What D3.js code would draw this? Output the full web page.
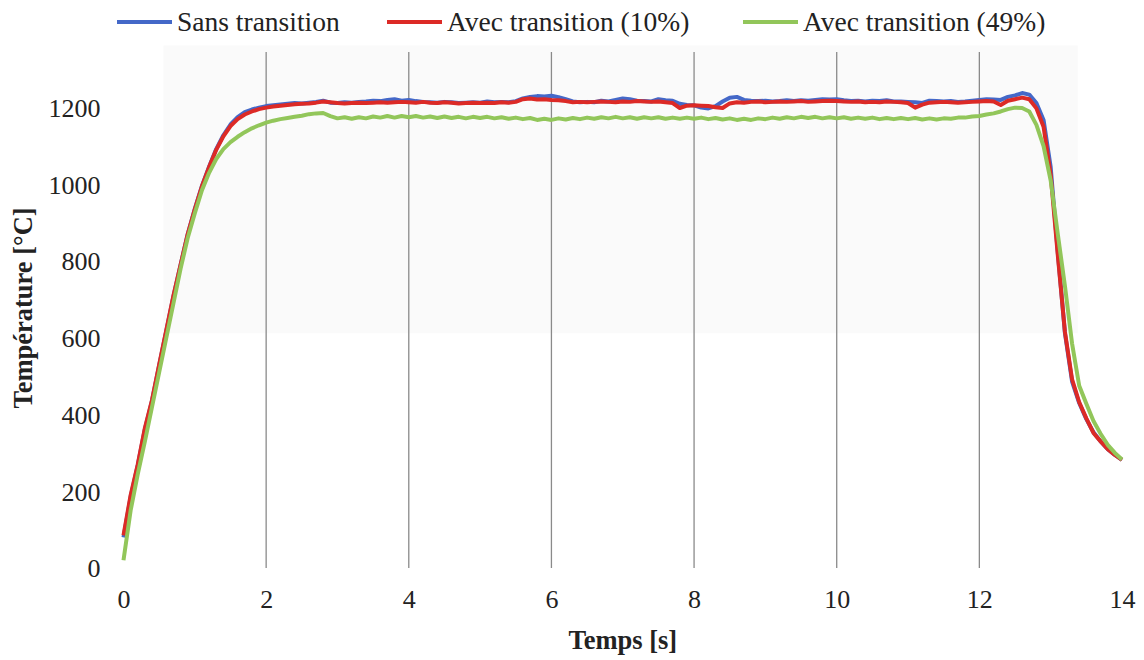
<!DOCTYPE html>
<meta charset="utf-8">
<head>
    <title>Température vs temps</title>
</head>
<style>
  body {
    margin: 0;
    background: #fff;
  }
  .tick text {
    font: 26px "Liberation Serif";
    fill: #222;
  }
  .legend text {
    font: 27.5px "Liberation Serif";
    fill: #222;
  }
  .title {
    font: bold 26.5px "Liberation Serif";
    fill: #222;
  }
  .grid line {
    stroke: #8a8a8a;
    stroke-width: 1.3px;
  }
  .serie {
    fill: none;
    stroke-width: 4px;
    stroke-linejoin: round;
  }
</style>
<body>
<script src="https://cdn.jsdelivr.net/npm/d3@7"></script>

<script>
// time axis [s] shared by all three series
var temps = [
  0.0, 0.1, 0.2, 0.3, 0.4, 0.5, 0.6, 0.7, 0.8, 0.9,
  1.0, 1.1, 1.2, 1.3, 1.4, 1.5, 1.6, 1.7, 1.8, 1.9,
  2.0, 2.1, 2.2, 2.3, 2.4, 2.5, 2.6, 2.7, 2.8, 2.9,
  3.0, 3.1, 3.2, 3.3, 3.4, 3.5, 3.6, 3.7, 3.8, 3.9,
  4.0, 4.1, 4.2, 4.3, 4.4, 4.5, 4.6, 4.7, 4.8, 4.9,
  5.0, 5.1, 5.2, 5.3, 5.4, 5.5, 5.6, 5.7, 5.8, 5.9,
  6.0, 6.1, 6.2, 6.3, 6.4, 6.5, 6.6, 6.7, 6.8, 6.9,
  7.0, 7.1, 7.2, 7.3, 7.4, 7.5, 7.6, 7.7, 7.8, 7.9,
  8.0, 8.1, 8.2, 8.3, 8.4, 8.5, 8.6, 8.7, 8.8, 8.9,
  9.0, 9.1, 9.2, 9.3, 9.4, 9.5, 9.6, 9.7, 9.8, 9.9,
  10.0, 10.1, 10.2, 10.3, 10.4, 10.5, 10.6, 10.7, 10.8, 10.9,
  11.0, 11.1, 11.2, 11.3, 11.4, 11.5, 11.6, 11.7, 11.8, 11.9,
  12.0, 12.1, 12.2, 12.3, 12.4, 12.5, 12.6, 12.7, 12.8, 12.9,
  13.0, 13.1, 13.2, 13.3, 13.4, 13.5, 13.6, 13.7, 13.8, 13.9,
  14.0
];

// Sans transition
var sansTransition = [
  80, 185, 268, 362, 436, 528, 618, 708, 790, 870,
  936, 996, 1046, 1092, 1128, 1156, 1175, 1188, 1195, 1200,
  1204, 1206, 1208, 1210, 1212, 1211, 1213, 1215, 1218, 1213,
  1212, 1214, 1213, 1215, 1216, 1218, 1217, 1220, 1222, 1218,
  1220, 1217, 1215, 1214, 1213, 1215, 1214, 1212, 1213, 1214,
  1213, 1216, 1214, 1215, 1214, 1217, 1224, 1228, 1230, 1229,
  1231, 1227, 1222, 1216, 1214, 1215, 1214, 1218, 1216, 1220,
  1224, 1222, 1218, 1217, 1216, 1222, 1219, 1218, 1210, 1207,
  1206, 1200, 1198, 1204, 1216, 1226, 1228, 1220, 1218, 1217,
  1218, 1216, 1217, 1219, 1217, 1219, 1218, 1220, 1222, 1221,
  1222, 1219, 1217, 1218, 1216, 1218, 1217, 1219, 1216, 1216,
  1215, 1214, 1212, 1218, 1217, 1216, 1217, 1215, 1216, 1218,
  1220, 1222, 1221, 1220, 1228, 1232, 1238, 1234, 1212, 1168,
  1045, 822, 612, 486, 430, 388, 354, 330, 310, 295,
  282
];

// Avec transition (10%)
var transition10 = [
  85, 190, 270, 365, 438, 530, 620, 710, 790, 870,
  935, 995, 1045, 1090, 1125, 1152, 1170, 1182, 1190, 1196,
  1200, 1203, 1205, 1207, 1209, 1210, 1211, 1213, 1216, 1214,
  1212, 1211, 1212, 1213, 1212, 1213, 1214, 1213, 1214, 1215,
  1214, 1213, 1215, 1213, 1212, 1214, 1213, 1211, 1212, 1213,
  1212, 1213, 1212, 1214, 1213, 1215, 1222, 1224, 1221, 1222,
  1220, 1219, 1217, 1214, 1215, 1214, 1215, 1216, 1215, 1214,
  1216, 1215, 1217, 1216, 1215, 1216, 1214, 1212, 1199, 1205,
  1206, 1205, 1204, 1201, 1199, 1211, 1214, 1213, 1215, 1216,
  1214, 1215, 1216, 1215, 1216, 1217, 1215, 1216, 1217, 1218,
  1217, 1216, 1215, 1216, 1214, 1215, 1214, 1216, 1215, 1214,
  1212, 1200, 1208, 1213, 1214, 1215, 1214, 1213, 1214, 1215,
  1216, 1217, 1216, 1207, 1218, 1222, 1226, 1222, 1198, 1150,
  1025, 815, 615, 492, 432, 390, 352, 330, 310, 295,
  282
];

// Avec transition (49%)
var transition49 = [
  20, 150, 245, 330, 420, 510, 600, 690, 780, 860,
  925, 985, 1030, 1066, 1092, 1110, 1124, 1136, 1146, 1154,
  1161, 1166, 1170, 1173, 1176, 1179, 1183, 1185, 1186, 1178,
  1172, 1175, 1171, 1175, 1172, 1177, 1174, 1178, 1174, 1178,
  1175, 1178, 1174, 1177, 1173, 1177, 1173, 1176, 1172, 1176,
  1173, 1176, 1172, 1175, 1171, 1174, 1170, 1173, 1168, 1171,
  1168, 1172, 1169, 1173, 1170, 1174, 1171, 1175, 1172, 1176,
  1172, 1175, 1171, 1175, 1172, 1175, 1171, 1174, 1171, 1174,
  1171, 1174, 1170, 1173, 1169, 1172, 1168, 1171, 1168, 1172,
  1170, 1174, 1171, 1175, 1172, 1176, 1173, 1176, 1172, 1175,
  1172, 1175, 1171, 1174, 1171, 1174, 1170, 1173, 1170, 1173,
  1170, 1173, 1169, 1172, 1169, 1172, 1171, 1174, 1174, 1177,
  1178, 1182, 1185, 1190, 1196, 1200, 1199, 1190, 1155, 1100,
  1010, 870, 735, 585, 475, 428, 383, 350, 321, 300,
  283
];

var series = [
  {name: "Sans transition", values: sansTransition, color: "#4468c8"},
  {name: "Avec transition (10%)", values: transition10, color: "#dc2a26"},
  {name: "Avec transition (49%)", values: transition49, color: "#92c65a"}
];

var xTicks = [0, 2, 4, 6, 8, 10, 12, 14];
var yTicks = [0, 200, 400, 600, 800, 1000, 1200];
var gridTicks = [2, 4, 6, 8, 10, 12];

var W = 1144, H = 660;
var margin = {top: 52, right: 22, bottom: 92, left: 123.5};
var width = W - margin.left - margin.right,
    height = H - margin.top - margin.bottom;

var x = d3.scaleLinear().domain([0, 14]).range([0, width]);
var y = d3.scaleLinear().domain([0, 1345]).range([height, 0]);

var svg = d3.select("body").append("svg")
    .attr("width", W)
    .attr("height", H)
  .append("g")
    .attr("transform", "translate(" + margin.left + "," + margin.top + ")");

// faint shaded band behind the plateau (scan artefact in the original)
svg.append("rect")
    .attr("x", x(0.56))
    .attr("y", y(1362))
    .attr("width", x(13.38) - x(0.56))
    .attr("height", y(612) - y(1362))
    .attr("fill", "#fafafa");

// vertical grid lines
svg.append("g")
    .attr("class", "grid")
  .selectAll("line")
    .data(gridTicks)
    .enter().append("line")
    .attr("x1", function(d) { return x(d); })
    .attr("x2", function(d) { return x(d); })
    .attr("y1", y(0))
    .attr("y2", y(1345));

// x axis (labels only)
var xAxis = svg.append("g")
    .attr("transform", "translate(0," + height + ")")
    .call(d3.axisBottom(x).tickValues(xTicks).tickSize(0).tickPadding(22).tickFormat(d3.format("d")));
xAxis.select(".domain").remove();

// y axis (labels only)
var yAxis = svg.append("g")
    .call(d3.axisLeft(y).tickValues(yTicks).tickSize(0).tickPadding(23).tickFormat(d3.format("d")));
yAxis.select(".domain").remove();
yAxis.selectAll(".tick text").attr("dy", "0.34em");

// lines
var line = d3.line()
    .x(function(d, i) { return x(temps[i]); })
    .y(function(d) { return y(d); });

svg.selectAll(".serie")
    .data(series)
    .enter().append("path")
    .attr("class", "serie")
    .attr("stroke", function(d) { return d.color; })
    .attr("d", function(d) { return line(d.values); });

// axis titles
svg.append("text")
    .attr("class", "title")
    .attr("x", width / 2)
    .attr("y", height + 81)
    .style("text-anchor", "middle")
    .text("Temps [s]");

svg.append("text")
    .attr("class", "title")
    .attr("transform", "rotate(-90)")
    .attr("x", -(308 - margin.top))
    .attr("y", 32 - margin.left)
    .style("text-anchor", "middle")
    .text("Température [°C]");

// legend
var legendPos = [117, 387, 743];
var legend = d3.select("svg").append("g")
    .attr("class", "legend");

var items = legend.selectAll("g")
    .data(series)
    .enter().append("g")
    .attr("transform", function(d, i) { return "translate(" + legendPos[i] + ",22)"; });

items.append("line")
    .attr("x1", 0)
    .attr("x2", 55)
    .attr("stroke", function(d) { return d.color; })
    .attr("stroke-width", 4);

items.append("text")
    .attr("x", 60)
    .attr("dy", "0.34em")
    .text(function(d) { return d.name; });
</script>
</body>
